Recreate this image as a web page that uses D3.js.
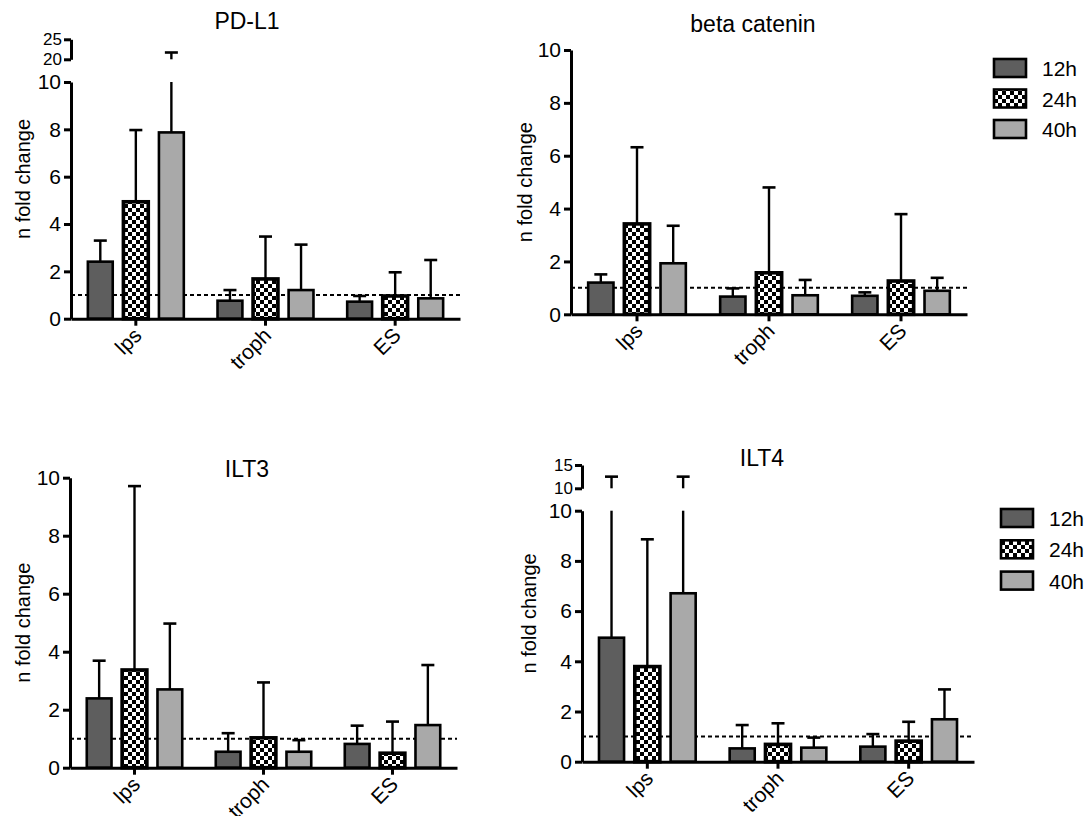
<!DOCTYPE html>
<html><head><meta charset="utf-8">
<script src="https://cdn.jsdelivr.net/npm/d3@7"></script>
<style>
body{margin:0;background:#fff}
text{font-family:"Liberation Sans",Arial,sans-serif;fill:#000}
</style>
</head><body>
<svg id="c" width="1087" height="816"></svg>
<script>
// ---------- data ----------
const categories = ["lps", "troph", "ES"];
const series = ["12h", "24h", "40h"];
const yTicks = [0, 2, 4, 6, 8, 10];
const titles = ["PD-L1", "beta catenin", "ILT3", "ILT4"];
const yLabel = "n fold change";

// means per series (rows: 12h, 24h, 40h; columns: lps, troph, ES)
const pdl1Means = [[2.41, 0.76, 0.72], [4.94, 1.68, 0.96], [7.87, 1.21, 0.86]];
const pdl1SD    = [[0.89, 0.45, 0.24], [3.03, 1.79, 1.00], [13.83, 1.92, 1.62]];
const betaMeans = [[1.20, 0.67, 0.70], [3.42, 1.57, 1.26], [1.93, 0.72, 0.89]];
const betaSD    = [[0.31, 0.31, 0.13], [2.90, 3.23, 2.53], [1.42, 0.58, 0.49]];
const ilt3Means = [[2.39, 0.55, 0.82], [3.37, 1.03, 0.50], [2.70, 0.55, 1.47]];
const ilt3SD    = [[1.30, 0.64, 0.63], [6.34, 1.91, 1.09], [2.27, 0.40, 2.07]];
const ilt4Means = [[4.94, 0.53, 0.60], [3.79, 0.69, 0.82], [6.71, 0.56, 1.69]];
const ilt4SD    = [[7.56, 0.93, 0.50], [5.07, 0.84, 0.77], [5.79, 0.40, 1.19]];
const pdl1BreakTicks = [20, 25];
const ilt4BreakTicks = [10, 15];

// ---------- drawing ----------
const svg = d3.select("#c");
const defs = svg.append("defs");
const pat = defs.append("pattern").attr("id", "chk").attr("width", 8).attr("height", 8)
  .attr("patternUnits", "userSpaceOnUse");
pat.append("rect").attr("width", 8).attr("height", 8).attr("fill", "#fff");
pat.append("rect").attr("width", 4).attr("height", 4).attr("fill", "#000");
pat.append("rect").attr("x", 4).attr("y", 4).attr("width", 4).attr("height", 4).attr("fill", "#000");

const fillOf = d3.scaleOrdinal().domain(series).range(["#5e5e5e", "url(#chk)", "#a9a9a9"]);
const strokeW = d3.scaleOrdinal().domain(series).range([2.6, 3.6, 2.6]);

function panel(cfg, title, means, sds, brkTicks) {
  const g = svg.append("g");
  const x0 = d3.scaleBand().domain(categories).range([cfg.left, cfg.right]);
  const gw = x0.bandwidth() * 0.74;
  const x1 = d3.scaleBand().domain(series).range([-gw / 2, gw / 2]).paddingInner(0.3);
  const y = d3.scaleLinear().domain([0, 10]).range([cfg.y0, cfg.y10]);
  let yb = null;
  if (brkTicks) yb = d3.scaleLinear().domain(brkTicks).range(cfg.brkRange);

  // reference line at 1
  g.append("line").attr("x1", cfg.left).attr("x2", cfg.right)
    .attr("y1", y(1)).attr("y2", y(1))
    .attr("stroke", "#000").attr("stroke-width", 2).attr("stroke-dasharray", "4,3");

  series.forEach((s, si) => {
    categories.forEach((c, ci) => {
      const m = means[si][ci], top = m + sds[si][ci];
      const bx = x0(c) + x0.bandwidth() / 2 + x1(s);
      const cx = bx + x1.bandwidth() / 2;
      const capW = 13;
      if (top <= 10) {
        g.append("line").attr("x1", cx).attr("x2", cx).attr("y1", y(m)).attr("y2", y(top))
          .attr("stroke", "#000").attr("stroke-width", 2.4);
        g.append("line").attr("x1", cx - capW / 2).attr("x2", cx + capW / 2)
          .attr("y1", y(top)).attr("y2", y(top)).attr("stroke", "#000").attr("stroke-width", 2.6);
      } else {
        g.append("line").attr("x1", cx).attr("x2", cx).attr("y1", y(m)).attr("y2", y(10))
          .attr("stroke", "#000").attr("stroke-width", 2.4);
        g.append("line").attr("x1", cx).attr("x2", cx).attr("y1", yb(brkTicks[0])).attr("y2", yb(top))
          .attr("stroke", "#000").attr("stroke-width", 2.4);
        g.append("line").attr("x1", cx - capW / 2).attr("x2", cx + capW / 2)
          .attr("y1", yb(top)).attr("y2", yb(top)).attr("stroke", "#000").attr("stroke-width", 2.6);
      }
      g.append("rect").attr("x", bx).attr("width", x1.bandwidth())
        .attr("y", y(m)).attr("height", y(0) - y(m))
        .attr("fill", fillOf(s)).attr("stroke", "#000").attr("stroke-width", strokeW(s));
    });
  });

  // y axis
  const ya = g.append("g").attr("transform", `translate(${cfg.left},0)`)
    .call(d3.axisLeft(y).tickValues(yTicks).tickSize(7).tickSizeOuter(0).tickPadding(3));
  ya.selectAll("text").style("font-size", "21px");
  if (yb) {
    const yba = g.append("g").attr("transform", `translate(${cfg.left},0)`)
      .call(d3.axisLeft(yb).tickValues(brkTicks).tickFormat(d3.format("d"))
        .tickSize(7).tickSizeOuter(0).tickPadding(2));
    yba.selectAll("text").style("font-size", "17px");
    yba.selectAll("path,line").attr("stroke-width", 2.6);
  }
  // x axis
  const xa = g.append("g").attr("transform", `translate(0,${cfg.y0})`)
    .call(d3.axisBottom(x0).tickSize(7).tickSizeOuter(0).tickFormat(""));
  xa.selectAll(".tick").append("text")
    .attr("text-anchor", "end")
    .attr("transform", "translate(7,18) rotate(-45)")
    .style("font-size", "21px")
    .text(d => d);
  g.selectAll(".domain").attr("stroke-width", 3);
  g.selectAll(".tick line").attr("stroke-width", 3);
  g.selectAll("text").attr("font-family", null);

  // title and y label
  g.append("text").attr("x", cfg.titleX).attr("y", cfg.titleY).attr("text-anchor", "middle")
    .style("font-size", "23px").text(title);
  const top = yb ? cfg.brkRange[1] : cfg.y10;
  g.append("text").attr("text-anchor", "middle")
    .attr("transform", `translate(${cfg.labelX},${(top + cfg.y0) / 2}) rotate(-90)`)
    .style("font-size", "20px").text(yLabel);
}

const layouts = [
  { left: 71, right: 460, y0: 318.7, y10: 82, brkRange: [59.3, 39.3], titleX: 247, titleY: 29, labelX: 30 },
  { left: 571, right: 967, y0: 314.3, y10: 50, titleX: 753, titleY: 32, labelX: 532 },
  { left: 70, right: 457, y0: 767.7, y10: 477.7, titleX: 247, titleY: 477, labelX: 30 },
  { left: 582, right: 974, y0: 761.7, y10: 510.7, brkRange: [488.3, 465], titleX: 762, titleY: 466, labelX: 536 }
];

panel(layouts[0], titles[0], pdl1Means, pdl1SD, pdl1BreakTicks);
panel(layouts[1], titles[1], betaMeans, betaSD, null);
panel(layouts[2], titles[2], ilt3Means, ilt3SD, null);
panel(layouts[3], titles[3], ilt4Means, ilt4SD, ilt4BreakTicks);

// legends
function legend(x, y, step) {
  const lg = svg.append("g").attr("transform", `translate(${x},${y})`);
  series.forEach((s, i) => {
    lg.append("rect").attr("x", 0).attr("y", i * step).attr("width", 32).attr("height", 18)
      .attr("fill", fillOf(s)).attr("stroke", "#000").attr("stroke-width", 2.6);
    lg.append("text").attr("x", 48).attr("y", i * step + 17).style("font-size", "21px").text(s);
  });
}
legend(994, 59, 30.5);
legend(1001, 509, 31.3);
</script>
</body></html>
